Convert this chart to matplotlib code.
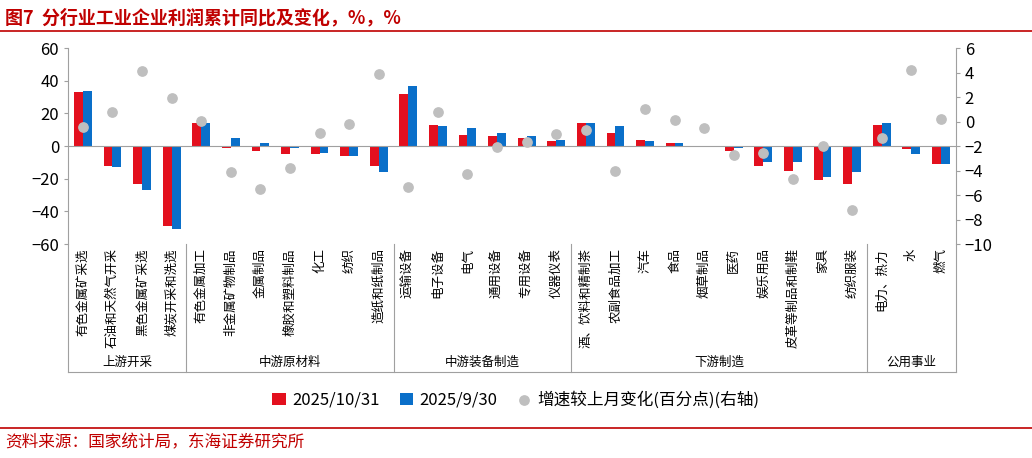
import matplotlib.pyplot as plt
import numpy as np

plt.rcParams['font.family'] = ['Noto Sans CJK SC', 'DejaVu Sans']

cats = ['有色金属矿采选', '石油和天然气开采', '黑色金属矿采选', '煤炭开采和洗选',
        '有色金属加工', '非金属矿物制品', '金属制品', '橡胶和塑料制品', '化工', '纺织', '造纸和纸制品',
        '运输设备', '电子设备', '电气', '通用设备', '专用设备', '仪器仪表',
        '酒、饮料和精制茶', '农副食品加工', '汽车', '食品', '烟草制品', '医药', '娱乐用品',
        '皮革等制品和制鞋', '家具', '纺织服装',
        '电力、热力', '水', '燃气']
groups = ['上游开采', '中游原材料', '中游装备制造', '下游制造', '公用事业']
group_sizes = [4, 7, 6, 10, 3]
oct31 = [33, -12, -23, -49, 14, -1, -3, -5, -5, -6, -12, 32, 13, 7, 6, 5, 3,
         14, 8, 4, 2, 0.3, -3, -12, -15, -21, -23, 13, -2, -11]
sep30 = [34, -13, -27, -51, 14, 5, 2, -1, -4, -6, -16, 37, 12, 11, 8, 6, 4,
         14, 12, 3, 2, 0.3, -1, -10, -10, -19, -16, 14, -5, -11]
change = [-0.45, 0.8, 4.1, 1.9, 0.05, -4.1, -5.5, -3.8, -0.9, -0.2, 3.9, -5.3, 0.8, -4.3,
          -2.1, -1.7, -1.0, -0.7, -4.0, 1.0, 0.1, -0.5, -2.7, -2.6, -4.7, -2.0, -7.2,
          -1.3, 4.2, 0.2]

red, blue, gray = '#E3101E', '#0A6FC9', '#BFBFBF'

fig = plt.figure(figsize=(10.32, 4.58), dpi=100)
ax = fig.add_axes([0.066, 0.467, 0.86, 0.428])
x = np.arange(len(cats))
w = 0.3
ax.bar(x - w / 2, oct31, w, color=red, label='2025/10/31')
ax.bar(x + w / 2, sep30, w, color=blue, label='2025/9/30')
ax.set_ylim(-60, 60)
ax.set_yticks(range(-60, 61, 20))
ax.set_xlim(-0.5, len(cats) - 0.5)
ax.set_xticks([])
ax.axhline(0, color='#A0A0A0', lw=0.8)
for s in ['top', 'right', 'bottom']:
    ax.spines[s].set_visible(False)
ax.spines['left'].set_color('#A0A0A0')
ax.tick_params(axis='y', labelsize=12, color='#A0A0A0', length=3)

ax2 = ax.twinx()
ax2.scatter(x, change, s=45, color=gray, zorder=3, label='增速较上月变化(百分点)(右轴)')
ax2.set_ylim(-10, 6)
ax2.set_yticks(range(-10, 7, 2))
for s in ['top', 'left', 'bottom']:
    ax2.spines[s].set_visible(False)
ax2.spines['right'].set_color('#A0A0A0')
ax2.tick_params(axis='y', labelsize=12, color='#A0A0A0', length=3)

# category labels and group separators
tr = ax.get_xaxis_transform()
for i, c in enumerate(cats):
    ax.text(i, -0.02, c, transform=tr, rotation=90, ha='center', va='top', fontsize=9)
bottom = -0.65
ax.plot([-0.5, -0.5], [0, bottom], transform=tr, color='#A0A0A0', lw=0.8, clip_on=False)
start = 0
for g, n in zip(groups, group_sizes):
    end = start + n
    ax.plot([end - 0.5, end - 0.5], [0, bottom], transform=tr, color='#A0A0A0', lw=0.8, clip_on=False)
    ax.text((start + end - 1) / 2, -0.605, g, transform=tr, ha='center', va='center', fontsize=9)
    start = end
ax.plot([-0.5, len(cats) - 0.5], [bottom, bottom], transform=tr, color='#A0A0A0', lw=0.8, clip_on=False)

h1, l1 = ax.get_legend_handles_labels()
h2, l2 = ax2.get_legend_handles_labels()
fig.legend(h1 + h2, l1 + l2, loc='center', bbox_to_anchor=(0.5, 0.127), ncol=3,
           frameon=False, fontsize=12, handlelength=0.8, columnspacing=1.2, handletextpad=0.4)

fig.text(0.005, 0.962, '图7  分行业工业企业利润累计同比及变化，%，%', color='#C00000',
         fontsize=13, fontweight='bold', va='center')
fig.add_artist(plt.Line2D([0, 1], [0.932, 0.932], color='#C00000', lw=1.2))
fig.add_artist(plt.Line2D([0, 1], [0.066, 0.066], color='#C00000', lw=1.2))
fig.text(0.005, 0.033, '资料来源：国家统计局，东海证券研究所', color='#C00000', fontsize=12, va='center')

fig.savefig('out.png', dpi=100)
